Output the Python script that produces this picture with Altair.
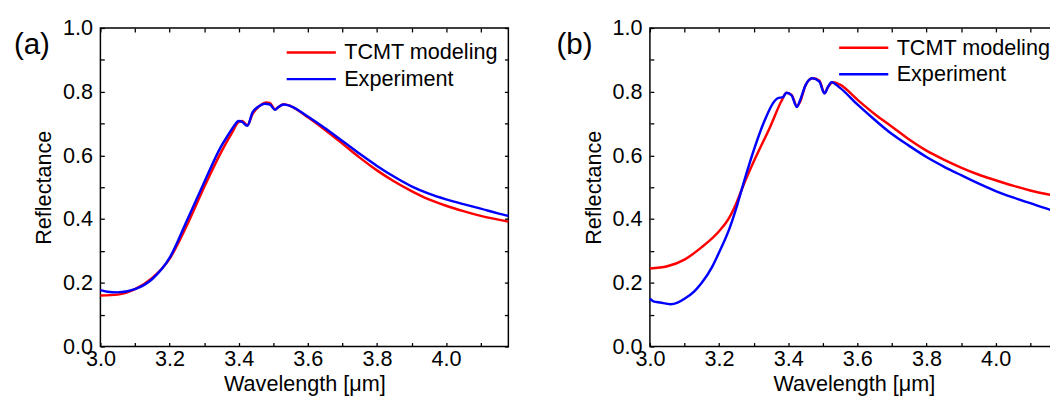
import altair as alt
import pandas as pd

# ---------------- data ----------------
series_names = ["TCMT modeling", "Experiment"]
x_ticks = [3.0, 3.1, 3.2, 3.3, 3.4, 3.5, 3.6, 3.7, 3.8, 3.9, 4.0, 4.1]
y_ticks = [0.0, 0.1, 0.2, 0.3, 0.4, 0.5, 0.6, 0.7, 0.8, 0.9, 1.0]

a_tcmt_lam = [3.00, 3.05, 3.10, 3.15, 3.20, 3.25, 3.30, 3.35, 3.38, 3.40, 3.41, 3.425, 3.44,
              3.46, 3.48, 3.49, 3.505, 3.515, 3.53, 3.55, 3.60, 3.65, 3.70, 3.75, 3.80,
              3.85, 3.90, 3.95, 4.00, 4.05, 4.10, 4.18]
a_tcmt_r = [0.160, 0.163, 0.180, 0.215, 0.275, 0.380, 0.500, 0.612, 0.670, 0.705, 0.708, 0.695, 0.730,
            0.755, 0.766, 0.765, 0.745, 0.752, 0.761, 0.755, 0.720, 0.680, 0.637, 0.593, 0.553,
            0.518, 0.488, 0.462, 0.442, 0.425, 0.410, 0.392]

a_exp_lam = [3.00, 3.02, 3.05, 3.10, 3.15, 3.20, 3.25, 3.30, 3.35, 3.37, 3.385, 3.40, 3.41, 3.425,
             3.44, 3.46, 3.475, 3.49, 3.505, 3.515, 3.53, 3.55, 3.60, 3.65, 3.70, 3.75, 3.80,
             3.85, 3.90, 3.95, 4.00, 4.05, 4.10, 4.15, 4.18]
a_exp_r = [0.177, 0.172, 0.170, 0.180, 0.212, 0.278, 0.395, 0.515, 0.630, 0.665, 0.690, 0.708, 0.705, 0.693,
           0.735, 0.755, 0.762, 0.760, 0.743, 0.752, 0.760, 0.755, 0.722, 0.685, 0.645, 0.605, 0.567,
           0.533, 0.503, 0.480, 0.462, 0.447, 0.433, 0.418, 0.410]

b_tcmt_lam = [3.00, 3.05, 3.10, 3.15, 3.20, 3.227, 3.25, 3.27, 3.30, 3.35, 3.38, 3.395, 3.41, 3.425,
              3.435, 3.45, 3.47, 3.49, 3.505, 3.515, 3.53, 3.55, 3.60, 3.65, 3.70, 3.75, 3.80,
              3.85, 3.90, 3.95, 4.00, 4.05, 4.10, 4.15, 4.18]
b_tcmt_r = [0.245, 0.252, 0.273, 0.312, 0.362, 0.400, 0.450, 0.505, 0.580, 0.695, 0.770, 0.797, 0.790, 0.755,
            0.770, 0.820, 0.842, 0.835, 0.795, 0.815, 0.830, 0.822, 0.775, 0.730, 0.690, 0.650, 0.615,
            0.587, 0.562, 0.540, 0.522, 0.505, 0.490, 0.478, 0.472]

b_exp_lam = [3.00, 3.01, 3.03, 3.06, 3.08, 3.10, 3.13, 3.15, 3.18, 3.20, 3.23, 3.25, 3.27, 3.30, 3.33,
             3.36, 3.37, 3.385, 3.395, 3.41, 3.425, 3.435, 3.45, 3.47, 3.49, 3.505, 3.515, 3.525,
             3.55, 3.60, 3.65, 3.70, 3.75, 3.80, 3.85, 3.90, 3.95, 4.00, 4.05, 4.10, 4.15, 4.18]
b_exp_r = [0.150, 0.142, 0.138, 0.133, 0.138, 0.150, 0.175, 0.200, 0.250, 0.295, 0.370, 0.435, 0.510, 0.615, 0.705,
           0.770, 0.780, 0.783, 0.797, 0.788, 0.752, 0.775, 0.820, 0.842, 0.832, 0.795, 0.815, 0.830,
           0.812, 0.760, 0.712, 0.667, 0.630, 0.595, 0.565, 0.538, 0.512, 0.488, 0.468, 0.450, 0.432, 0.422]

FONT = "Liberation Sans"
W, H = 415, 324
label_expr = "round(datum.value*10) % 2 == 0 ? format(datum.value, '.1f') : ''"


def panel(t_lam, t_r, e_lam, e_r, tag, tag_x, leg_x, leg_y):
    df_t = pd.DataFrame({"lam": t_lam, "R": t_r, "series": series_names[0]})
    df_e = pd.DataFrame({"lam": e_lam, "R": e_r, "series": series_names[1]})
    xs = alt.Scale(domain=[3.0, 4.18], nice=False, zero=False)
    ys = alt.Scale(domain=[0.0, 1.0], nice=False, zero=False)
    color = alt.Color(
        "series:N",
        scale=alt.Scale(domain=series_names, range=["#ff0000", "#0000ff"]),
        legend=alt.Legend(
            title=None, orient="none", legendX=leg_x, legendY=leg_y,
            symbolType="stroke", symbolSize=2500, symbolStrokeWidth=2.5,
            clipHeight=22, rowPadding=5, labelOffset=7, padding=0,
            labelFontSize=22, labelFont=FONT, labelColor="black",
        ),
    )
    x_bottom = alt.Axis(
        orient="bottom", values=x_ticks, labelExpr=label_expr, offset=-4, tickSize=4,
        labelPadding=2, title="Wavelength [μm]", titleY=31.5, titleBaseline="top",
        labelFlush=False, labelOverlap=False, domain=False, grid=False, minExtent=0,
    )
    y_left = alt.Axis(
        orient="left", values=y_ticks, labelExpr=label_expr, offset=-4, tickSize=4,
        labelPadding=8, title="Reflectance", titlePadding=7, labelFlush=False,
        labelOverlap=False, domain=False, grid=False, minExtent=0,
    )
    x_top = alt.Axis(orient="top", values=x_ticks, labels=False, offset=-4, tickSize=4,
                     title=None, domain=False, grid=False, minExtent=0)
    y_right = alt.Axis(orient="right", values=y_ticks, labels=False, offset=-4, tickSize=4,
                       title=None, domain=False, grid=False, minExtent=0)

    red = alt.Chart(df_t).mark_line(strokeWidth=2.5, interpolate="monotone").encode(
        x=alt.X("lam:Q", scale=xs, axis=x_bottom),
        y=alt.Y("R:Q", scale=ys, axis=y_left),
        color=color,
    )
    blue = alt.Chart(df_e).mark_line(strokeWidth=2.5, interpolate="monotone").encode(
        x=alt.X("lam:Q", scale=xs, axis=None),
        y=alt.Y("R:Q", scale=ys, axis=None),
        color=color,
    )
    frame = alt.Chart(df_t).mark_line(opacity=0).encode(
        x=alt.X("lam:Q", scale=xs, axis=x_top),
        y=alt.Y("R:Q", scale=ys, axis=y_right),
    )
    label = alt.Chart(pd.DataFrame({"t": [tag]})).mark_text(
        align="left", baseline="alphabetic", fontSize=30, font=FONT, color="black"
    ).encode(text="t:N", x=alt.value(tag_x), y=alt.value(26))

    return alt.layer(red, blue, frame, label).resolve_scale(
        x="independent", y="independent"
    ).properties(width=W, height=H)


pa = panel(a_tcmt_lam, a_tcmt_r, a_exp_lam, a_exp_r, "(a)", -88, 188, 14)
pb = panel(b_tcmt_lam, b_tcmt_r, b_exp_lam, b_exp_r, "(b)", -95, 191, 9)

chart = alt.hconcat(pa, pb, spacing=42).resolve_scale(color="independent").resolve_legend(
    color="independent"
).properties(
    padding={"left": 5, "top": 5, "right": -14, "bottom": -2}
).configure(font=FONT).configure_view(stroke="black", strokeWidth=1.5).configure_axis(
    labelFontSize=22, titleFontSize=22, labelFont=FONT, titleFont=FONT,
    titleFontWeight="normal", labelColor="black", titleColor="black",
    tickColor="black", tickWidth=1.3,
)

chart.save("out.html", embed_options={"renderer": "svg", "actions": False})
